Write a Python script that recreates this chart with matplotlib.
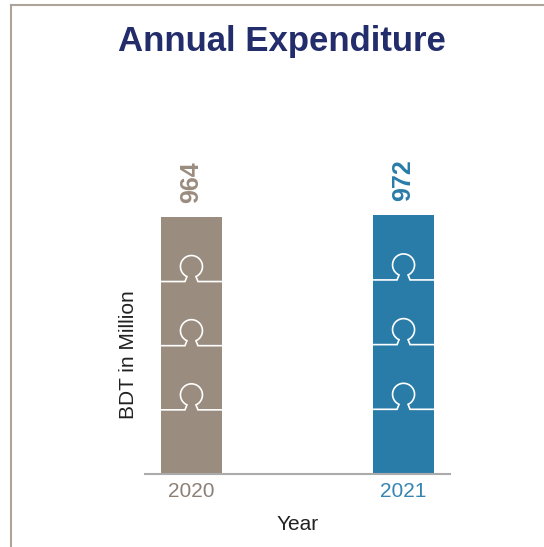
import numpy as np
import matplotlib
matplotlib.use("Agg")
import matplotlib.pyplot as plt
from matplotlib.path import Path
from matplotlib.patches import PathPatch
from matplotlib.lines import Line2D
from matplotlib.transforms import ScaledTranslation

plt.rcParams['font.family'] = ['Liberation Sans', 'DejaVu Sans']

years = ["2020", "2021"]
spend = [964, 972]
bar_colors = ["#9a8c7e", "#2a7ca8"]
tick_colors = ["#8c8076", "#3585b2"]

W, H = 544, 547
fig = plt.figure(figsize=(W / 100, H / 100), dpi=100)
ax = fig.add_axes([145 / W, 1 - 474 / H, 305 / W, 394 / H])

x = np.arange(len(years))
ax.bar(x, spend, width=0.288, color=bar_colors, zorder=2)
ax.set_xlim(-0.219, 1.219)
ax.set_ylim(0, 1480)


def knob_path(half_w):
    # white jigsaw seam in pixel offsets, centred on the seam
    r, cy, neck, base = 11.0, 15.0, 4.5, 6.5
    t0 = np.arccos(neck / r)
    al = np.pi * 1.5 - (np.pi / 2 - t0)   # bottom-left of circle
    ar = -np.pi / 2 + (np.pi / 2 - t0)    # bottom-right of circle
    arc = np.linspace(al, ar, 80)
    verts = [(-half_w, 0), (-base, 0)]
    verts += [(r * np.cos(t), cy + r * np.sin(t)) for t in arc]
    verts += [(base, 0), (half_w, 0)]
    return Path(verts)


for xi, v in zip(x, spend):
    for k in (1, 2, 3):
        tr = ScaledTranslation(xi, v * k / 4, ax.transData)
        p = PathPatch(knob_path(30.5), transform=tr, fill=False,
                      edgecolor="white", lw=1.2, zorder=3)
        ax.add_artist(p)

for xi, v, c in zip(x, spend, bar_colors):
    ax.annotate(str(v), (xi, v), xytext=(0, 10), textcoords="offset points",
                rotation=90, ha="center", va="bottom", fontsize=18,
                fontweight="bold", color=c)

for s in ["top", "left", "right"]:
    ax.spines[s].set_visible(False)
ax.spines["bottom"].set_color("#aaaaaa")
ax.spines["bottom"].set_linewidth(1.5)
ax.set_yticks([])
ax.set_xticks(x)
ax.set_xticklabels(years, fontsize=15)
for lab, c in zip(ax.get_xticklabels(), tick_colors):
    lab.set_color(c)
ax.tick_params(axis="x", length=0, pad=5.5)
ax.set_xlabel("Year", fontsize=15, color="#222222", labelpad=10)

fig.text(128 / W, 1 - 355 / H, "BDT in Million", rotation=90, ha="center",
         va="center", fontsize=15, color="#222222")
fig.text(282 / W, 1 - 42 / H, "Annual Expenditure", ha="center", va="center",
         fontsize=25, fontweight="bold", color="#232d6b")

# frame lines
fig.add_artist(Line2D([11 / W, 11 / W], [0, 1 - 5 / H], color="#aca49b", lw=1.5))
fig.add_artist(Line2D([11 / W, 1], [1 - 5 / H, 1 - 5 / H], color="#aca49b", lw=1.5))

fig.savefig("out.png", dpi=100)
